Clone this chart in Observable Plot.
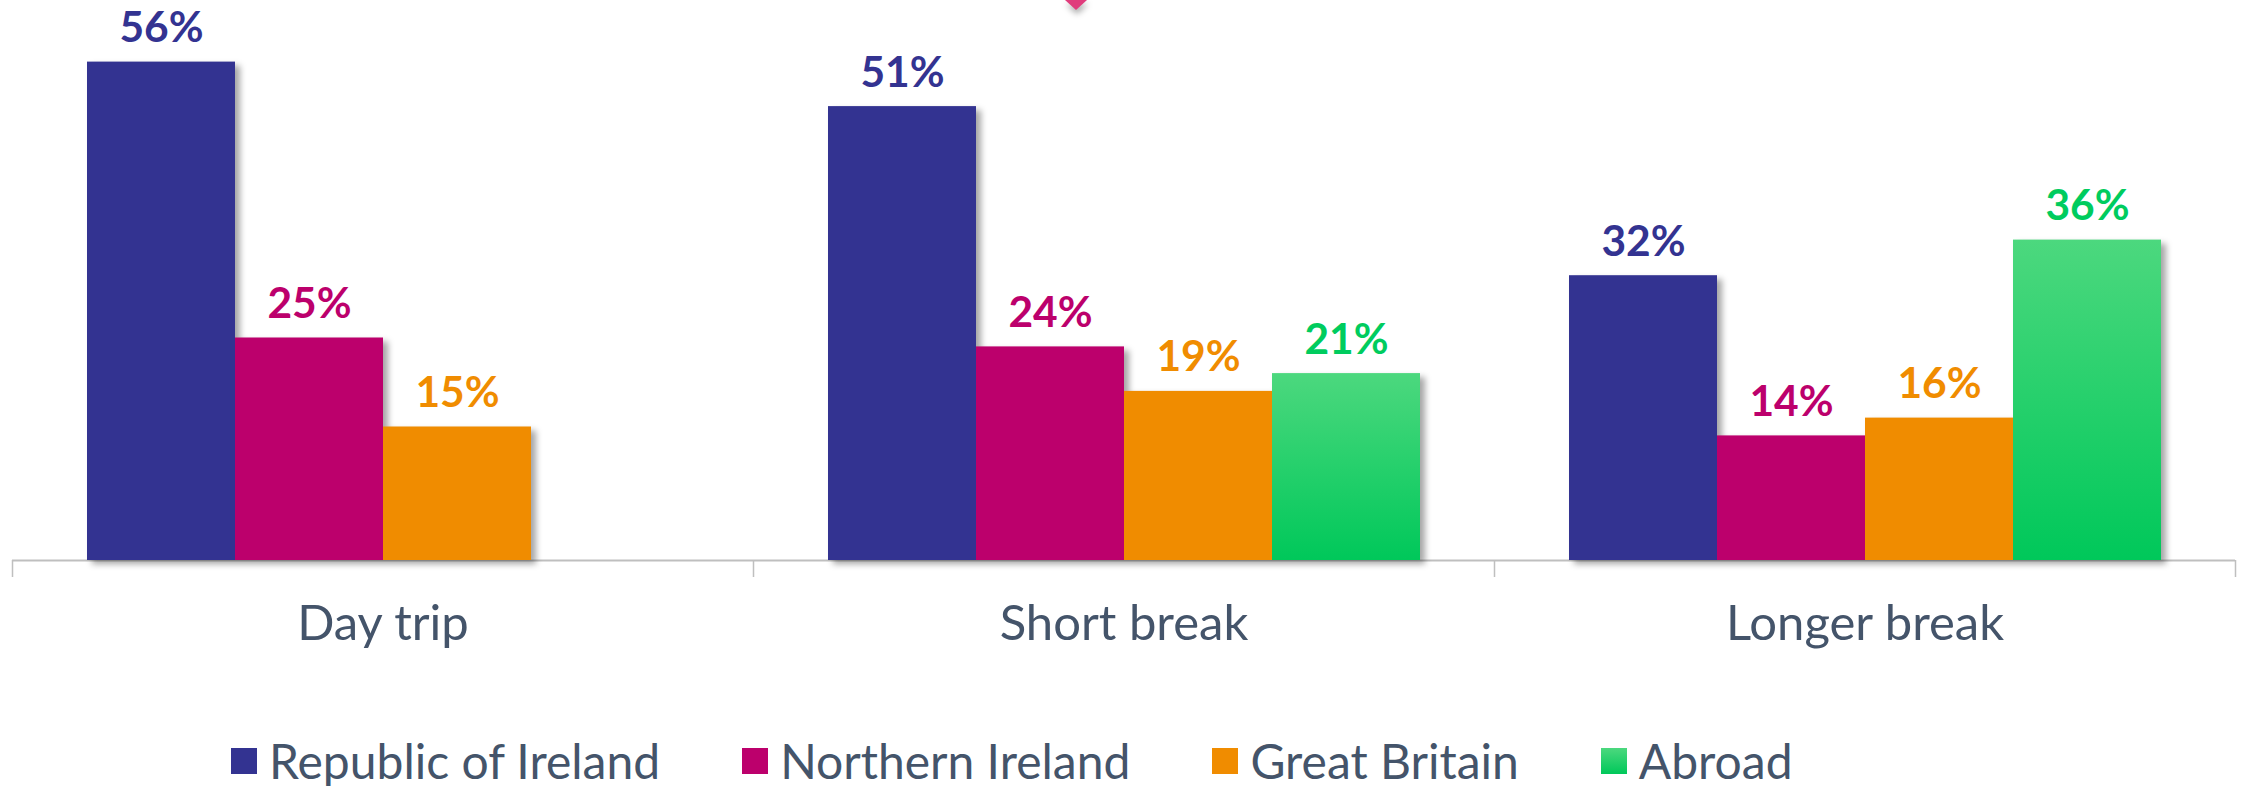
<!DOCTYPE html>
<html>
<head>
<meta charset="utf-8">
<script src="https://cdn.jsdelivr.net/npm/d3@7"></script>
<script src="https://cdn.jsdelivr.net/npm/@observablehq/plot@0.6"></script>
<style>
  html, body { margin: 0; padding: 0; background: #fff; }
  body { width: 2246px; height: 786px; overflow: hidden; font-family: Lato, "Open Sans", sans-serif; }
  #wrap { position: relative; width: 2246px; }
  #wrap svg.plot { display: block; }
  #marker { position: absolute; left: 1065px; top: 0; width: 0; height: 0;
    border-left: 11px solid transparent; border-right: 11px solid transparent;
    border-top: 10px solid #e03c7c; filter: drop-shadow(1px 4px 3px rgba(0,0,0,0.35)); }
  #legend { display: flex; align-items: center; padding-left: 231px; height: 51px;
    font-family: Lato, sans-serif; font-size: 48px; line-height: 48px; color: #44546a; }
  #legend .item { display: flex; align-items: center; margin-right: 82px; }
  #legend .sw { width: 26px; height: 26px; margin-right: 12px; }
</style>
</head>
<body>
<svg width="0" height="0" style="position:absolute">
  <defs>
    <linearGradient id="abroadGrad" x1="0" y1="0" x2="0" y2="1">
      <stop offset="0" stop-color="#4cd87e"/>
      <stop offset="1" stop-color="#00c85a"/>
    </linearGradient>
  </defs>
</svg>
<div id="wrap"><div id="marker"></div></div>
<div id="legend"></div>
<script>
const groups = ["Day trip", "Short break", "Longer break"];
const series = ["Republic of Ireland", "Northern Ireland", "Great Britain", "Abroad"];
const republicOfIreland = [56, 51, 32];
const northernIreland = [25, 24, 14];
const greatBritain = [15, 19, 16];
const abroad = [null, 21, 36];

const barColors = ["#333391", "#bc006c", "#f08c00", "url(#abroadGrad)"];
const labelColors = ["#333391", "#bc006c", "#f08c00", "#00cc5e"];
const swatchColors = ["#333391", "#bc006c", "#f08c00", "linear-gradient(#4cd87e, #00c85a)"];
const textColor = "#44546a";

const valuesBySeries = [republicOfIreland, northernIreland, greatBritain, abroad];
const data = [];
groups.forEach((g, gi) => {
  series.forEach((s, si) => {
    const v = valuesBySeries[si][gi];
    if (v != null) data.push({group: g, series: s, value: v});
  });
});

const W = 2246, H = 735;
const mL = 12, mR = 11;
const step = (W - mL - mR) / groups.length;

const chart = Plot.plot({
  width: W,
  height: H,
  marginLeft: mL,
  marginRight: mR,
  marginTop: 26,
  marginBottom: H - 560,
  style: {fontFamily: "Lato, sans-serif", background: "transparent"},
  fx: {domain: groups, padding: 0, label: null},
  x: {domain: series, paddingInner: 0, paddingOuter: 0.5, axis: null},
  y: {domain: [0, 60], axis: null},
  color: {domain: series, range: barColors},
  marks: [
    Plot.ruleY([0], {stroke: "#bfbfbf", strokeWidth: 2}),
    Plot.barY(data, {
      fx: "group", x: "series", y: "value", fill: "series",
      imageFilter: "drop-shadow(5px 4px 3px rgba(0,0,0,0.35))"
    }),
    Plot.text(data, {
      fx: "group", x: "series", y: "value",
      text: d => d.value + "%",
      fill: {value: d => labelColors[series.indexOf(d.series)], scale: null},
      lineAnchor: "bottom", dy: -20,
      fontSize: 42.5, fontWeight: "bold"
    }),
    Plot.axisFx({anchor: "bottom", tickSize: 0, tickPadding: 45, fontSize: 49, fill: textColor, label: null}),
    Plot.axisFx({anchor: "bottom", tickSize: 17, tickFormat: () => "", stroke: "#bfbfbf", strokeWidth: 1.5, dx: -step / 2, label: null}),
    Plot.axisFx({anchor: "bottom", ticks: [groups[groups.length - 1]], tickSize: 17, tickFormat: () => "", stroke: "#bfbfbf", strokeWidth: 1.5, dx: step / 2, label: null})
  ]
});
chart.classList.add("plot");
document.getElementById("wrap").appendChild(chart);

const legend = document.getElementById("legend");
series.forEach((s, i) => {
  const item = document.createElement("div");
  item.className = "item";
  const sw = document.createElement("div");
  sw.className = "sw";
  sw.style.background = swatchColors[i];
  const t = document.createElement("span");
  t.textContent = s;
  item.appendChild(sw);
  item.appendChild(t);
  legend.appendChild(item);
});
</script>
</body>
</html>
